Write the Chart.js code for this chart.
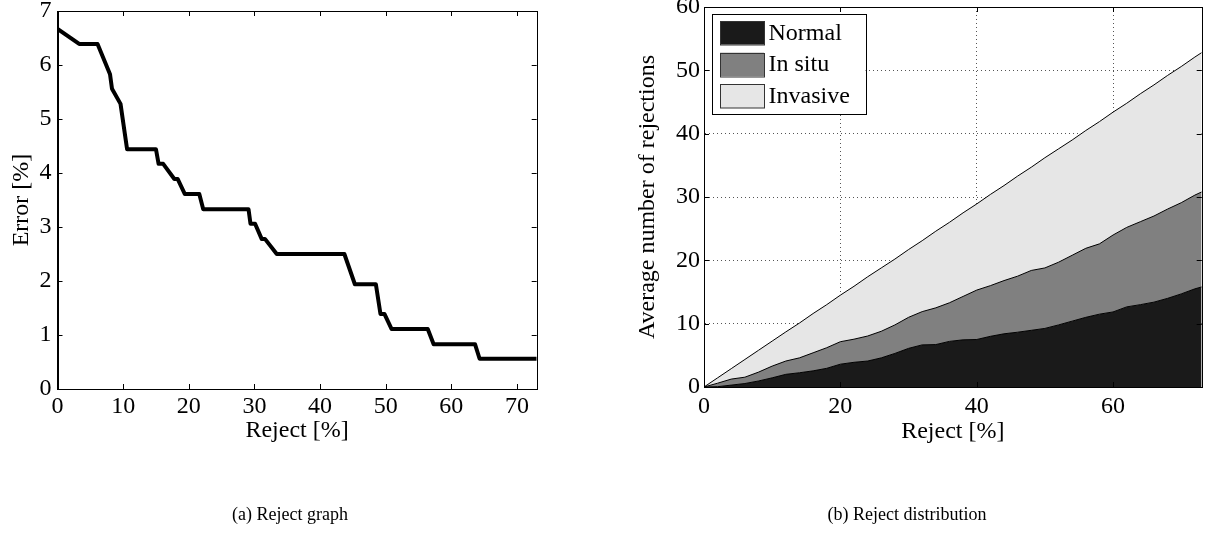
<!DOCTYPE html>
<html><head><meta charset="utf-8">
<script src="https://cdn.jsdelivr.net/npm/chart.js@4.4.1/dist/chart.umd.min.js"></script>
<style>
html,body{margin:0;padding:0;background:#fff;width:1208px;height:534px;overflow:hidden;position:relative;font-family:"Liberation Serif",serif;}
.wrap{position:absolute;top:-40px;width:604px;height:574px;}
.cap{position:absolute;font-size:18px;line-height:20px;color:#000;white-space:nowrap;transform:translateX(-50%);}
</style></head><body>
<div class="wrap" style="left:0"><canvas id="cA"></canvas></div>
<div class="wrap" style="left:604px"><canvas id="cB"></canvas></div>
<div class="cap" style="left:290px;top:504px">(a) Reject graph</div>
<div class="cap" style="left:907px;top:504px">(b) Reject distribution</div>
<script>
// ---- (a) Reject graph ----
const rejectA = [0, 3.3, 6.1, 8.0, 8.3, 9.6, 10.6, 15.0, 15.4, 16.1, 17.8, 18.3, 19.4, 21.6, 22.2, 29.1, 29.4, 30.1, 31.1, 31.6, 33.4, 43.7, 45.3, 48.5, 49.2, 49.8, 50.9, 56.4, 57.3, 63.6, 64.3, 73];
const errorA  = [6.67, 6.39, 6.39, 5.83, 5.56, 5.28, 4.44, 4.44, 4.17, 4.17, 3.89, 3.89, 3.61, 3.61, 3.33, 3.33, 3.06, 3.06, 2.78, 2.78, 2.50, 2.50, 1.94, 1.94, 1.39, 1.39, 1.11, 1.11, 0.83, 0.83, 0.56, 0.56];
const xTicksA = [0, 10, 20, 30, 40, 50, 60, 70];
const yTicksA = [0, 1, 2, 3, 4, 5, 6, 7];

// ---- (b) Reject distribution (cumulative boundaries) ----
const rejectB = [0,2,4,6,8,10,12,14,16,18,20,22,24,26,28,30,32,34,36,38,40,42,44,46,48,50,52,54,56,58,60,62,64,66,68,70,72,73];
const normalTop = [0,0.05,0.3,0.55,0.95,1.45,2.0,2.25,2.55,2.95,3.6,3.9,4.1,4.6,5.3,6.1,6.65,6.7,7.2,7.45,7.5,8.0,8.4,8.65,8.95,9.25,9.8,10.4,11.0,11.5,11.85,12.65,13.0,13.4,14.0,14.7,15.5,15.8];
const inSituTop = [0,0.6,1.25,1.55,2.35,3.3,4.1,4.6,5.4,6.2,7.15,7.55,8.05,8.8,9.8,11.0,11.9,12.5,13.3,14.3,15.3,16.0,16.8,17.5,18.4,18.8,19.7,20.8,21.9,22.6,24.0,25.2,26.1,27.0,28.1,29.1,30.3,30.8];
const invasiveTop = [0,1.45,2.9,4.35,5.8,7.25,8.7,10.1,11.6,13.0,14.5,15.9,17.4,18.8,20.2,21.7,23.1,24.6,26.0,27.5,28.9,30.4,31.8,33.3,34.7,36.2,37.6,39.0,40.5,41.9,43.4,44.8,46.3,47.7,49.2,50.6,52.1,52.8];
const xTicksB = [0, 20, 40, 60];
const yTicksB = [0, 10, 20, 30, 40, 50, 60];
const seriesNames = ['Normal', 'In situ', 'Invasive'];
const seriesColors = ['#1a1a1a', '#808080', '#e6e6e6'];

const FONT = {family: '"Liberation Serif", "Times New Roman", serif', size: 24};

const frameTicks = {
  id: 'frameTicks',
  afterDraw(chart, args, opts) {
    const {ctx, chartArea: a, scales} = chart;
    ctx.save();
    ctx.strokeStyle = '#000';
    ctx.lineWidth = 1;
    ctx.strokeRect(Math.round(a.left) + 0.5, Math.round(a.top) + 0.5, Math.round(a.right - a.left), Math.round(a.bottom - a.top));
    const L = 5;
    ctx.beginPath();
    scales.x.ticks.forEach(t => {
      const p = Math.round(scales.x.getPixelForValue(t.value)) + 0.5;
      ctx.moveTo(p, a.bottom); ctx.lineTo(p, a.bottom - L);
      ctx.moveTo(p, a.top); ctx.lineTo(p, a.top + L);
    });
    scales.y.ticks.forEach(t => {
      const p = Math.round(scales.y.getPixelForValue(t.value)) + 0.5;
      ctx.moveTo(a.left, p); ctx.lineTo(a.left + L, p);
      ctx.moveTo(a.right, p); ctx.lineTo(a.right - L, p);
    });
    ctx.stroke();
    if (opts.legend) {
      const bx = a.left + 7.5, by = a.top + 7, bw = 154, bh = 100;
      ctx.fillStyle = '#fff';
      ctx.fillRect(bx, by, bw, bh);
      ctx.lineWidth = 1;
      ctx.strokeStyle = '#000';
      ctx.strokeRect(Math.round(bx) + 0.5, Math.round(by) + 0.5, bw, bh);
      ctx.font = '24px "Liberation Serif", serif';
      ctx.textBaseline = 'middle';
      ctx.textAlign = 'left';
      chart.data.datasets.forEach((ds, i) => {
        const sy = by + 7 + i * 31.7;
        ctx.fillStyle = ds.backgroundColor;
        ctx.fillRect(bx + 8.5, sy, 44, 23.5);
        ctx.strokeStyle = '#333';
        ctx.strokeRect(Math.round(bx + 8.5) + 0.5, Math.round(sy) + 0.5, 44, 23.5);
        ctx.fillStyle = '#000';
        ctx.fillText(ds.label, bx + 57, sy + 12.5);
      });
    }
    ctx.restore();
  }
};

function fixTicks(arr) { return s => { s.ticks = arr.map(v => ({value: v})); }; }

new Chart(document.getElementById('cA'), {
  type: 'line',
  data: {
    datasets: [{
      label: 'Error',
      data: rejectA.map((x, i) => ({x: x, y: errorA[i]})),
      borderColor: '#000', borderWidth: 4, pointRadius: 0, tension: 0,
      borderJoinStyle: 'round', fill: false
    }]
  },
  options: {
    responsive: true, maintainAspectRatio: false, animation: false, devicePixelRatio: 1,
    layout: {padding: {left: 0, right: 67.3, top: 51, bottom: 574 - 429 - 56}},
    plugins: {legend: {display: false}, tooltip: {enabled: false}, frameTicks: {}},
    scales: {
      x: {
        type: 'linear', min: 0, max: 73,
        afterBuildTicks: fixTicks(xTicksA),
        afterFit: s => { s.height = 56; },
        grid: {display: false, drawTicks: false, tickLength: 0},
        border: {display: true, color: '#000', width: 1},
        ticks: {font: FONT, color: '#000', padding: 3, maxRotation: 0, autoSkip: false},
        title: {display: true, text: 'Reject [%]', font: FONT, color: '#000', padding: 0}
      },
      y: {
        type: 'linear', min: 0, max: 7,
        afterBuildTicks: fixTicks(yTicksA),
        afterFit: s => { s.width = 57.5; },
        grid: {display: false, drawTicks: false, tickLength: 0},
        border: {display: true, color: '#000', width: 1},
        ticks: {font: FONT, color: '#000', padding: 6, autoSkip: false},
        title: {display: true, text: 'Error [%]', font: FONT, color: '#000', padding: {top: 7, bottom: 0}}
      }
    }
  },
  plugins: [frameTicks]
});

const tops = [normalTop, inSituTop, invasiveTop];
new Chart(document.getElementById('cB'), {
  type: 'line',
  data: {
    datasets: tops.map((arr, i) => ({
      label: seriesNames[i],
      data: rejectB.map((x, j) => ({x: x, y: arr[j]})),
      backgroundColor: seriesColors[i],
      borderColor: '#000', borderWidth: 1, pointRadius: 0, tension: 0,
      fill: i === 0 ? 'origin' : '-1'
    }))
  },
  options: {
    responsive: true, maintainAspectRatio: false, animation: false, devicePixelRatio: 1,
    layout: {padding: {left: 0, right: 6.3, top: 47, bottom: 574 - 427 - 59.4}},
    plugins: {legend: {display: false}, tooltip: {enabled: false}, frameTicks: {legend: true}},
    scales: {
      x: {
        type: 'linear', min: 0, max: 73, z: 1,
        afterBuildTicks: fixTicks(xTicksB),
        afterFit: s => { s.height = 59.4; },
        grid: {display: true, drawTicks: false, tickLength: 0, color: '#555', lineWidth: 1},
        border: {display: true, color: '#000', width: 1, dash: [1, 3]},
        ticks: {font: FONT, color: '#000', padding: 5, maxRotation: 0, autoSkip: false},
        title: {display: true, text: 'Reject [%]', font: FONT, color: '#000', padding: 0}
      },
      y: {
        type: 'linear', min: 0, max: 60, z: 1,
        afterBuildTicks: fixTicks(yTicksB),
        afterFit: s => { s.width = 100; },
        grid: {display: true, drawTicks: false, tickLength: 0, color: '#555', lineWidth: 1},
        border: {display: true, color: '#000', width: 1, dash: [1, 3]},
        ticks: {font: FONT, color: '#000', padding: 4, autoSkip: false},
        title: {display: true, text: 'Average number of rejections', font: FONT, color: '#000', padding: {top: 29, bottom: 0}}
      }
    }
  },
  plugins: [frameTicks]
});
</script>
</body></html>
